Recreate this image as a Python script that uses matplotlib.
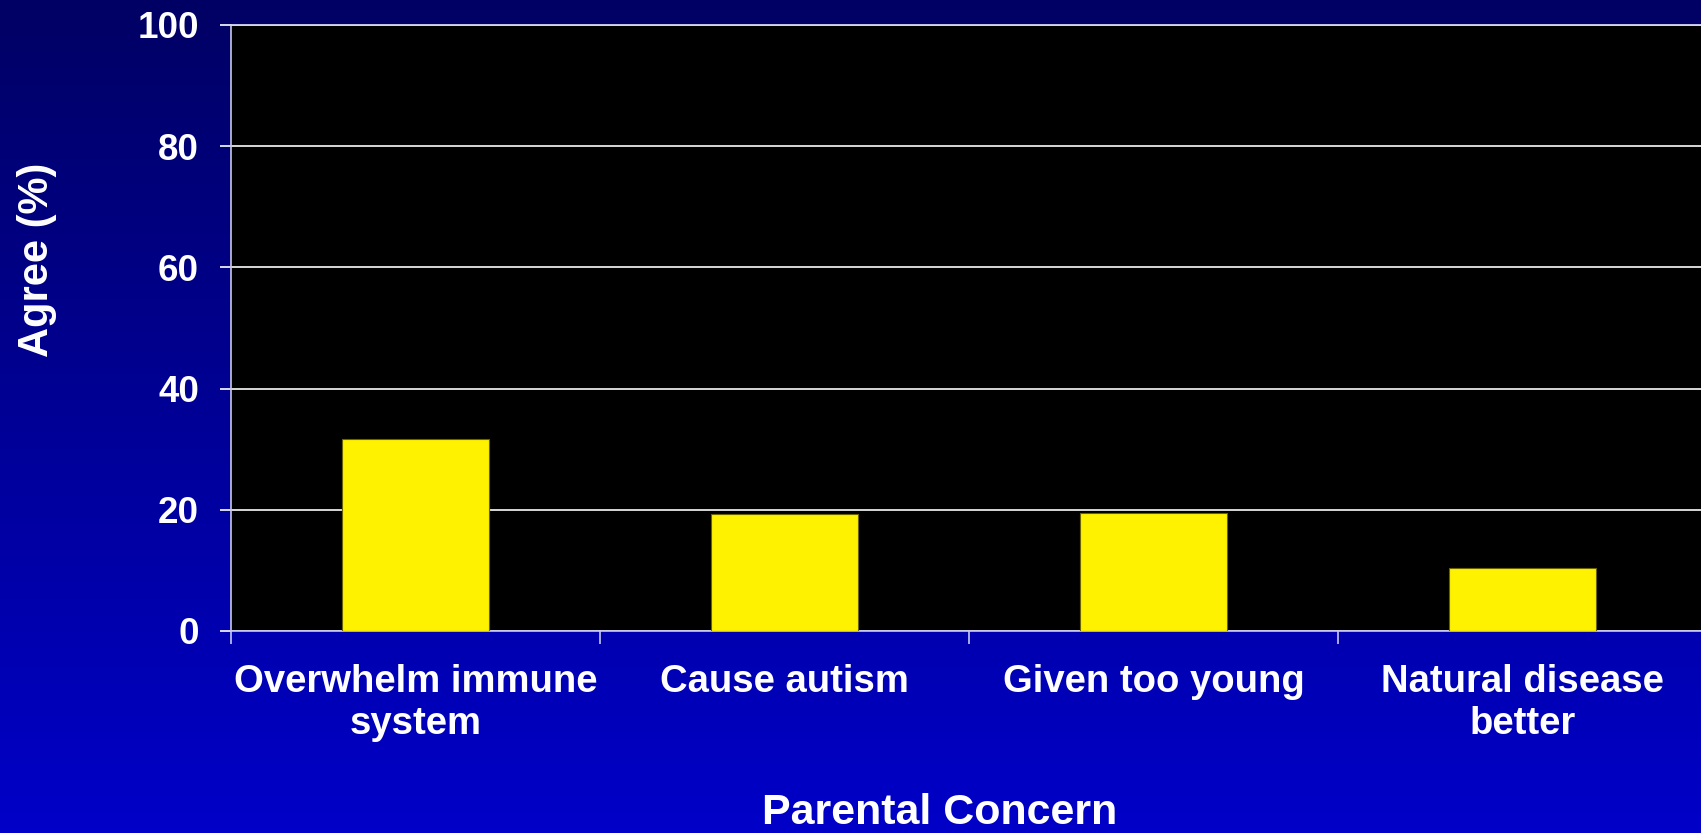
import numpy as np
import matplotlib
matplotlib.use("Agg")
import matplotlib.pyplot as plt
from matplotlib.colors import LinearSegmentedColormap

plt.rcParams['font.family'] = ['Liberation Sans', 'DejaVu Sans']
plt.rcParams['font.weight'] = 'bold'

categories = ["Overwhelm immune\nsystem", "Cause autism", "Given too young", "Natural disease\nbetter"]
agree_pct = [31.7, 19.3, 19.5, 10.4]
y_ticks = [0, 20, 40, 60, 80, 100]

W, H = 1701, 833
fig = plt.figure(figsize=(W / 100, H / 100), dpi=100)

# vertical navy-to-blue background
bg = fig.add_axes([0, 0, 1, 1], zorder=-10)
grad = np.linspace(0, 1, 256).reshape(-1, 1)
cmap = LinearSegmentedColormap.from_list("bg", ["#000064", "#0000C8"])
bg.imshow(grad, aspect="auto", cmap=cmap, extent=[0, 1, 0, 1], origin="upper")
bg.set_axis_off()

left, right = 231, 231 + 4 * 369
bottom, top = 631, 25
ax = fig.add_axes([left / W, (H - bottom) / H, (right - left) / W, (bottom - top) / H])
ax.set_facecolor("black")

x = np.arange(len(categories))
ax.bar(x, agree_pct, width=0.4, color="#FFF200", edgecolor="#6b6200", linewidth=0.8, zorder=3)

ax.set_xlim(-0.5, len(categories) - 0.5)
ax.set_ylim(0, 100)
ax.set_yticks(y_ticks)
ax.set_yticklabels([str(v) for v in y_ticks])
ax.yaxis.grid(True, color="#e8e8e8", linewidth=1.3, zorder=1)
ax.set_axisbelow(True)

ax.spines["right"].set_visible(False)
ax.spines["top"].set_color("#d8d8f0")
ax.spines["top"].set_linewidth(1.3)
ax.spines["left"].set_color("#c8c8e8")
ax.spines["left"].set_linewidth(1.2)
ax.spines["bottom"].set_color("#c8c8f0")
ax.spines["bottom"].set_linewidth(1.2)

ax.tick_params(axis="y", colors="white", labelsize=26.5, length=8, width=1.2,
               direction="out", pad=15)
for t in ax.get_yticklabels():
    t.set_fontweight("bold")

ax.set_xticks(x)
ax.set_xticklabels(categories, fontsize=27.5, fontweight="bold", color="white", linespacing=1.2)
ax.tick_params(axis="x", which="major", length=0, pad=24)
ax.set_xticks(np.arange(-0.5, len(categories), 1.0), minor=True)
ax.tick_params(axis="x", which="minor", length=9, width=1.2, color="#c8c8f0", direction="out")

fig.text(37 / W, 1 - 260 / H, "Agree (%)", rotation=90, ha="center", va="center",
         color="white", fontsize=30, fontweight="bold")
fig.text(940 / W, 1 - 813 / H, "Parental Concern", ha="center", va="center",
         color="white", fontsize=31, fontweight="bold")

fig.savefig("out.png", dpi=100)
